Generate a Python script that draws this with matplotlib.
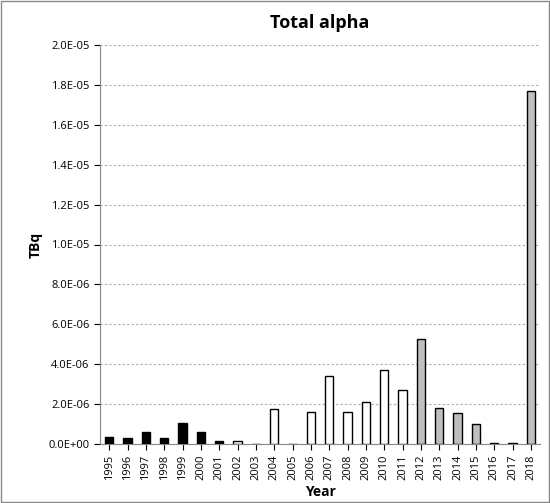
import matplotlib
matplotlib.use("Agg")
import matplotlib.pyplot as plt

years = [str(y) for y in range(1995, 2019)]
values = [0.35, 0.3, 0.6, 0.3, 1.05, 0.6, 0.15, 0.15, 0.0, 1.75, 0.0, 1.6, 3.4,
          1.6, 2.1, 3.7, 2.7, 5.25, 1.8, 1.55, 1.0, 0.05, 0.03, 17.7]  # x1e-6 TBq
colors = ["black"] * 7 + ["white"] * 10 + ["#bfbfbf"] * 4 + ["black", "#bfbfbf", "#bfbfbf"]

plt.rcParams["font.family"] = ["Open Sans", "DejaVu Sans"]
fig = plt.figure(figsize=(5.5, 5.03), dpi=100)
ax = fig.add_axes([100 / 550, 59 / 503, 440 / 550, 399 / 503])
ax.bar(range(len(years)), [v * 1e-6 for v in values], width=0.45,
       color=colors, edgecolor="black", linewidth=1, zorder=3)
ax.set_xlim(-0.5, len(years) - 0.5)
ax.set_ylim(0, 2e-5)
ticks = [i * 2e-6 for i in range(11)]
ax.set_yticks(ticks)
ax.set_yticklabels([f"{t:.1E}".replace("E-0", "E-0").replace("E+00", "E+00") for t in ticks], fontsize=8)
ax.set_xticks(range(len(years)))
ax.set_xticklabels(years, rotation=90, fontsize=8)
ax.yaxis.grid(True, linestyle=(0, (2, 2)), color="#aaaaaa", linewidth=0.8, zorder=0)
for s in ["top", "right"]:
    ax.spines[s].set_visible(False)
for s in ["left", "bottom"]:
    ax.spines[s].set_color("#888888")
ax.tick_params(colors="black", length=4)
ax.set_ylabel("TBq", fontweight="bold", fontsize=10)
ax.set_xlabel("Year", fontweight="bold", fontsize=10)
ax.set_title("Total alpha", fontweight="bold", fontsize=13, pad=12)
fig.patches.append(plt.Rectangle((0.002, 0.002), 0.996, 0.996, transform=fig.transFigure,
                                 fill=False, edgecolor="#888888", linewidth=1))
fig.savefig("out.png", dpi=100)
